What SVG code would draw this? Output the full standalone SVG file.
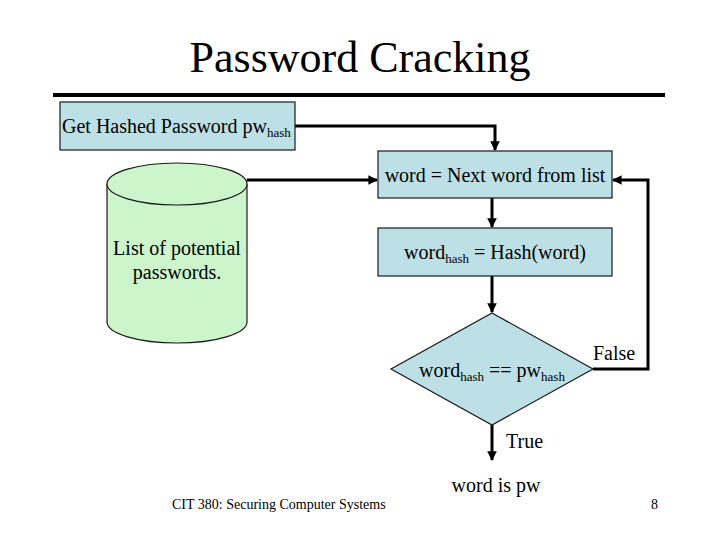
<svg xmlns="http://www.w3.org/2000/svg" width="720" height="540" viewBox="0 0 720 540">
<style>
text{font-family:"Liberation Serif","Times New Roman",serif;fill:#000}
.box{fill:#bde0e6;stroke:#1a1a1a;stroke-width:1.2}
.cyl{fill:#ccf5cc;stroke:#1a1a1a;stroke-width:1.2}
.lbl{font-size:20px}
.sub{font-size:13px}
.con{fill:none;stroke:#000;stroke-width:3}
</style>
<defs>
<marker id="ah" viewBox="0 0 10 10" refX="9" refY="5" markerWidth="3.2" markerHeight="3.2" orient="auto" markerUnits="strokeWidth">
<path d="M0,0 L10,5 L0,10 z" fill="#000"/>
</marker>
</defs>
<rect width="720" height="540" fill="#fff"/>
<g id="title">
<text x="360" y="72" text-anchor="middle" font-size="44">Password Cracking</text>
<line x1="53" y1="95" x2="665" y2="95" stroke="#000" stroke-width="4"/>
</g>
<g id="connectors">
<path class="con" d="M295,126 H495 V150" marker-end="url(#ah)"/>
<path class="con" d="M247,180 H377" marker-end="url(#ah)"/>
<path class="con" d="M492,198 V227" marker-end="url(#ah)"/>
<path class="con" d="M492,276 V312" marker-end="url(#ah)"/>
<path class="con" d="M593,369 H648 V180 H613" marker-end="url(#ah)"/>
<path class="con" d="M492,425 V460" marker-end="url(#ah)"/>
<text x="593" y="360" class="lbl">False</text>
<text x="506" y="448" class="lbl">True</text>
</g>
<g id="get-hash">
<rect class="box" x="60" y="102" width="235" height="48"/>
<text x="62" y="133" class="lbl">Get Hashed Password pw<tspan class="sub" dy="4">hash</tspan></text>
</g>
<g id="word-list">
<path class="cyl" d="M107,184 V322 A70,21 0 0,0 247,322 V184"/>
<ellipse class="cyl" cx="177" cy="184" rx="70" ry="21"/>
<text x="177" y="255" text-anchor="middle" class="lbl">List of potential</text>
<text x="177" y="279" text-anchor="middle" class="lbl">passwords.</text>
</g>
<g id="next-word">
<rect class="box" x="378" y="151" width="234" height="47"/>
<text x="495" y="182" text-anchor="middle" class="lbl">word = Next word from list</text>
</g>
<g id="hash-word">
<rect class="box" x="378" y="228" width="234" height="48"/>
<text x="495" y="259" text-anchor="middle" class="lbl">word<tspan class="sub" dy="4">hash</tspan><tspan dy="-4"> = Hash(word)</tspan></text>
</g>
<g id="compare">
<polygon class="box" points="492,313 593,369 492,425 391,369"/>
<text x="492" y="377" text-anchor="middle" class="lbl">word<tspan class="sub" dy="4">hash</tspan><tspan dy="-4"> == pw</tspan><tspan class="sub" dy="4">hash</tspan></text>
</g>
<g id="result">
<text x="496" y="492" text-anchor="middle" class="lbl">word is pw</text>
</g>
<g id="footer">
<text x="172" y="509" font-size="14">CIT 380: Securing Computer Systems</text>
<text x="658" y="509" font-size="14" text-anchor="end">8</text>
</g>
</svg>
